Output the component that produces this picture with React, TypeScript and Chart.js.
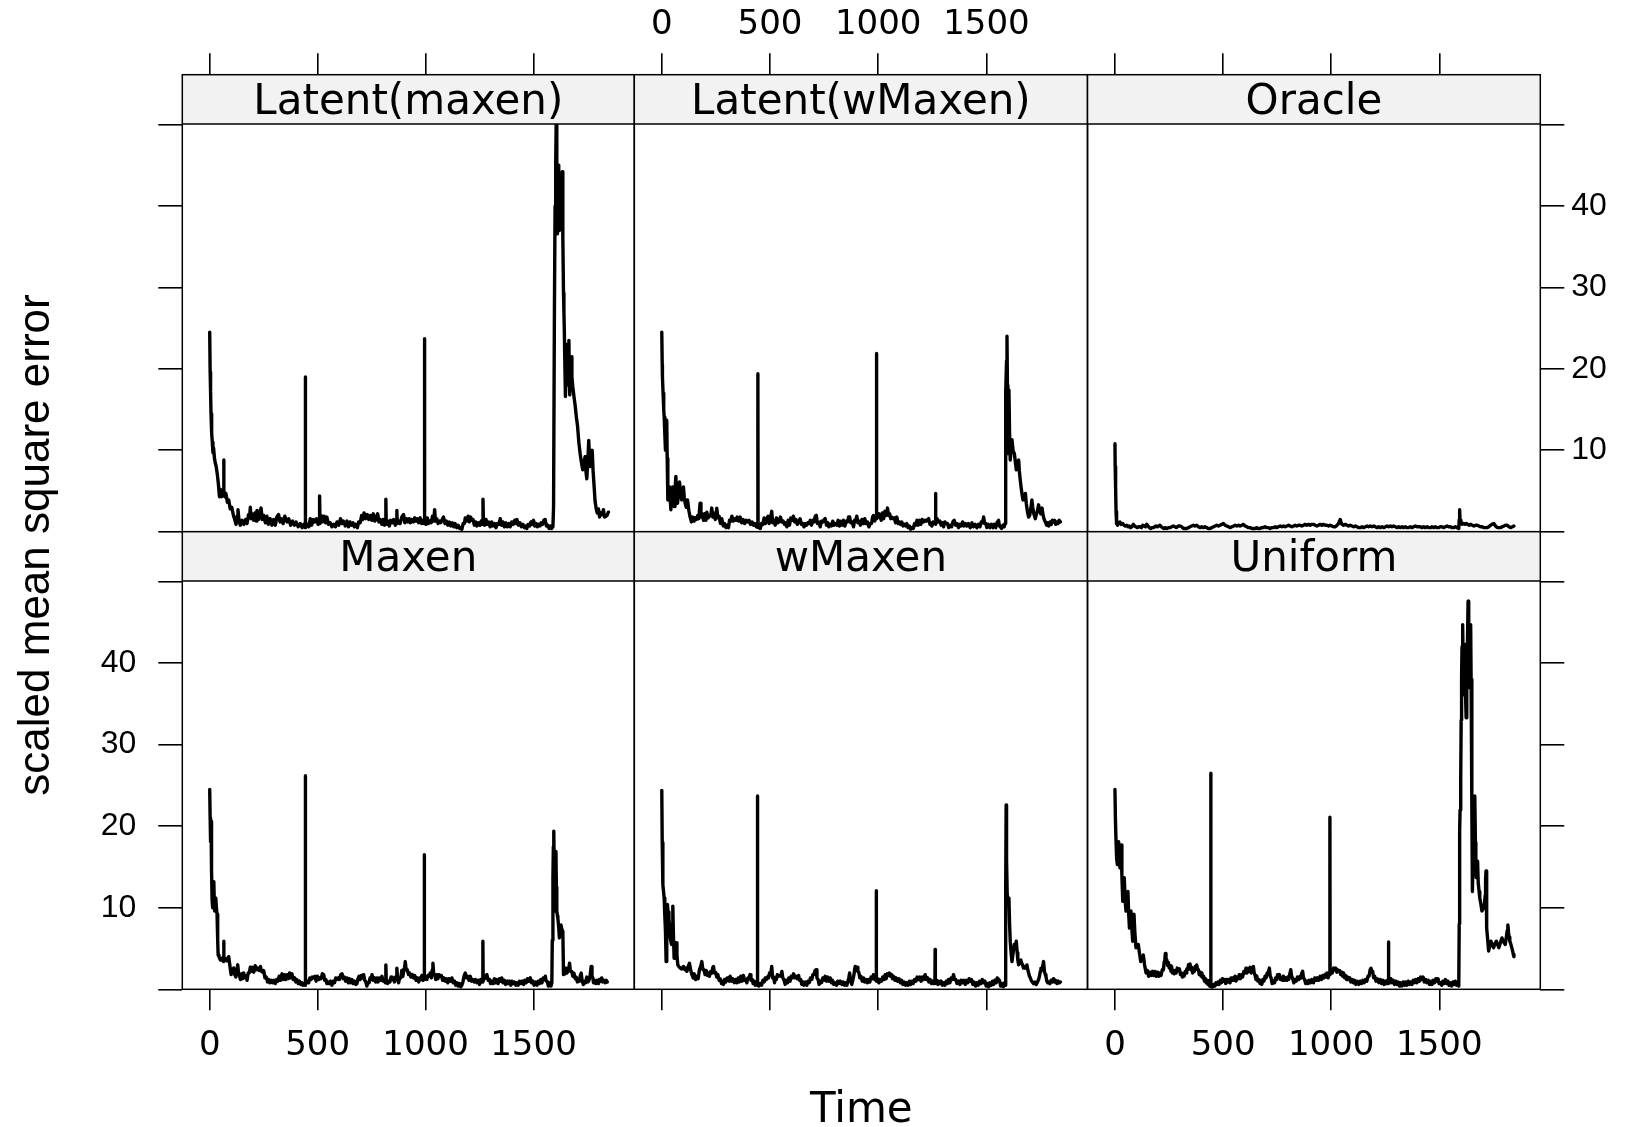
import React, { useEffect, useRef } from 'react';
import { Chart, registerables } from 'chart.js';

Chart.register(...registerables);

// ---------------- data ----------------
const PANEL_NAMES = ['Latent(maxen)', 'Latent(wMaxen)', 'Oracle', 'Maxen', 'wMaxen', 'Uniform'];
const TIME_TICKS = [0, 500, 1000, 1500];
const TIME_LABELS = ['0', '500', '1000', '1500'];
const Y_TICKS = [0, 10, 20, 30, 40, 50];
const Y_LABELS = ['', '10', '20', '30', '40', ''];
const X_LABEL = 'Time';
const Y_LABEL = 'scaled mean square error';

const latentMaxen: number[][] = [[0,24.5],[2,19.6],[4,17.2],[6,14.5],[9,12.1],[12,11.0],[15,9.7],[18,10.3],[22,9.0],[26,8.4],[30,8.0],[35,7.1],[40,5.9],[45,4.3],[50,5.2],[55,4.3],[60,5.0],[64,4.6],[65,8.8],[66,5.0],[70,4.3],[75,4.7],[82,3.6],[88,3.9],[95,2.8],[102,3.0],[110,2.0],[116,1.5],[122,0.9],[127,1.9],[131,2.7],[136,1.3],[142,0.8],[150,1.4],[158,0.9],[166,1.5],[173,1.0],[180,2.1],[185,1.8],[188,3.0],[192,1.6],[198,2.2],[204,1.4],[210,2.3],[215,1.3],[219,2.6],[226,1.5],[232,2.4],[238,2.9],[243,1.5],[250,2.0],[258,1.1],[265,1.9],[272,0.9],[280,1.6],[288,0.8],[296,1.5],[304,0.8],[311,1.8],[319,2.1],[326,1.2],[332,1.6],[340,1.0],[348,1.9],[358,1.2],[366,1.6],[375,0.8],[384,1.3],[392,0.8],[400,1.2],[410,0.6],[420,1.0],[428,0.5],[436,0.9],[442,0.5],[443,19.0],[444,0.6],[452,0.9],[459,0.6],[466,1.6],[472,0.8],[480,1.5],[488,1.2],[495,1.6],[502,0.9],[507,1.3],[509,4.4],[511,1.0],[516,2.0],[522,1.2],[530,1.9],[537,1.1],[543,1.8],[550,0.9],[558,1.1],[566,0.6],[574,0.9],[582,0.6],[590,1.2],[598,0.8],[606,1.6],[613,1.0],[620,1.3],[628,0.7],[636,1.3],[643,0.6],[650,1.2],[657,0.8],[664,1.1],[670,0.6],[677,0.9],[684,0.5],[690,1.2],[697,1.1],[704,2.0],[709,1.5],[715,2.3],[722,1.6],[730,2.1],[737,1.5],[744,2.0],[751,1.4],[758,2.2],[765,1.3],[771,1.6],[778,2.2],[784,1.2],[790,1.5],[797,0.9],[804,1.5],[810,0.8],[815,1.3],[816,4.0],[818,0.9],[825,1.3],[832,0.7],[838,1.4],[845,1.1],[852,1.5],[860,0.8],[866,1.4],[867,2.6],[869,1.0],[875,1.3],[882,1.0],[890,1.8],[898,2.1],[904,1.1],[911,1.6],[918,1.2],[924,1.6],[930,1.1],[937,1.5],[944,1.2],[950,1.7],[956,1.3],[962,1.6],[968,1.1],[975,1.7],[982,1.0],[988,1.4],[994,1.0],[995,23.7],[996,1.5],[1002,0.9],[1008,1.7],[1014,1.0],[1020,1.3],[1026,1.1],[1032,1.9],[1038,1.3],[1042,2.7],[1046,1.3],[1052,1.6],[1058,1.0],[1064,1.3],[1070,1.1],[1077,1.5],[1083,1.8],[1090,1.0],[1096,1.3],[1103,0.8],[1110,1.2],[1117,0.7],[1124,1.1],[1131,0.6],[1137,1.0],[1144,0.5],[1151,0.8],[1158,0.4],[1164,0.5],[1168,0.3],[1174,1.0],[1180,1.0],[1184,1.7],[1190,1.3],[1197,1.9],[1203,1.2],[1209,1.8],[1214,1.4],[1220,1.5],[1226,0.8],[1232,1.2],[1238,0.7],[1245,1.1],[1252,0.8],[1258,1.3],[1264,0.9],[1266,4.0],[1268,1.3],[1274,0.8],[1280,1.5],[1286,0.9],[1292,1.2],[1299,0.6],[1306,1.2],[1312,0.7],[1319,1.0],[1326,0.5],[1333,1.0],[1340,0.9],[1346,1.6],[1352,0.8],[1358,1.2],[1365,0.6],[1372,1.1],[1379,0.6],[1386,1.0],[1392,0.6],[1399,1.2],[1406,0.9],[1413,1.4],[1419,1.0],[1423,1.5],[1430,0.8],[1437,1.1],[1444,0.6],[1451,0.9],[1458,0.5],[1464,0.7],[1469,0.4],[1475,0.9],[1482,0.7],[1488,1.2],[1494,0.9],[1500,1.4],[1506,0.7],[1512,1.0],[1518,0.6],[1524,0.9],[1530,0.7],[1536,1.1],[1542,0.9],[1548,1.4],[1554,1.5],[1560,0.7],[1566,0.8],[1572,0.4],[1578,0.7],[1584,0.4],[1590,0.6],[1593,3.1],[1597,27.6],[1600,40.0],[1603,45.5],[1605,50.0],[1608,42.0],[1611,36.6],[1614,41.0],[1616,45.0],[1618,38.0],[1620,37.0],[1624,40.5],[1627,42.0],[1630,38.5],[1633,44.2],[1636,36.0],[1639,29.3],[1641,27.0],[1643,24.4],[1646,19.5],[1648,16.6],[1651,21.0],[1654,23.0],[1657,19.5],[1659,18.0],[1662,21.5],[1664,23.5],[1666,19.0],[1668,16.8],[1671,19.5],[1674,21.5],[1678,19.0],[1682,17.8],[1688,16.5],[1693,15.5],[1699,14.0],[1704,13.0],[1710,11.0],[1716,9.6],[1722,8.5],[1728,7.6],[1733,8.4],[1739,9.2],[1743,7.4],[1747,6.5],[1752,9.0],[1756,11.2],[1759,9.5],[1762,8.0],[1767,9.5],[1772,10.0],[1776,7.5],[1781,5.5],[1785,3.8],[1790,2.9],[1795,2.3],[1801,2.8],[1806,1.8],[1812,2.3],[1818,2.1],[1824,2.7],[1829,1.8],[1835,1.9],[1841,2.0],[1847,2.4]];

const latentWMaxen: number[][] = [[0,24.5],[2,20.5],[3,19.0],[6,17.0],[9,15.0],[11,14.1],[14,12.0],[17,10.0],[20,12.5],[23,13.7],[25,9.0],[28,3.9],[32,5.0],[36,5.5],[39,4.0],[42,2.7],[46,4.8],[51,5.5],[54,4.2],[57,3.1],[61,5.0],[65,6.8],[69,4.5],[73,3.5],[78,5.0],[82,6.1],[87,4.6],[92,3.9],[96,4.8],[100,5.5],[104,4.2],[108,3.5],[113,3.0],[119,3.9],[125,2.6],[131,1.8],[137,1.2],[143,1.8],[149,1.3],[154,1.7],[160,1.5],[166,2.0],[171,1.6],[177,3.5],[181,1.8],[187,2.2],[193,1.4],[199,2.2],[204,1.4],[208,2.4],[214,1.7],[220,1.9],[226,2.0],[231,2.9],[236,1.8],[241,2.2],[247,1.5],[251,2.5],[254,2.9],[259,1.7],[265,1.9],[271,1.0],[277,1.6],[284,0.7],[290,1.0],[297,0.5],[303,0.8],[308,0.5],[313,1.4],[318,1.3],[324,1.9],[330,1.3],[336,1.6],[342,1.4],[348,1.8],[355,1.3],[362,1.8],[369,1.1],[376,1.5],[383,1.0],[390,1.4],[396,1.2],[403,1.4],[410,0.9],[417,1.2],[424,0.8],[430,1.0],[437,0.6],[443,0.7],[444,19.4],[445,0.5],[450,0.7],[455,0.4],[461,1.0],[467,0.9],[473,1.7],[479,1.0],[485,1.6],[491,1.9],[496,1.0],[502,1.6],[508,2.5],[512,1.1],[518,1.4],[524,0.8],[530,1.7],[536,1.1],[542,1.2],[548,1.8],[555,1.2],[561,1.3],[567,0.9],[573,1.1],[578,0.6],[584,1.4],[590,0.8],[596,1.7],[602,1.4],[608,1.9],[614,1.2],[620,1.5],[626,0.9],[632,1.2],[639,1.6],[645,0.9],[651,1.0],[657,0.6],[663,1.0],[669,0.8],[675,1.1],[681,1.0],[686,1.4],[692,0.8],[698,1.4],[704,1.2],[709,1.9],[714,2.0],[719,1.0],[725,1.2],[732,0.6],[738,1.3],[744,1.2],[750,1.5],[755,1.6],[761,0.8],[767,1.1],[772,0.6],[778,0.9],[784,0.7],[790,1.3],[796,0.8],[803,1.0],[809,0.8],[815,1.4],[821,0.7],[827,1.3],[834,0.8],[840,1.4],[846,0.7],[852,1.3],[858,1.2],[863,1.8],[868,1.8],[873,1.1],[879,1.2],[886,0.6],[891,1.4],[896,1.3],[901,1.9],[906,1.1],[912,1.3],[918,0.8],[925,1.5],[932,1.0],[938,1.6],[944,1.0],[950,1.2],[957,0.6],[963,1.0],[969,1.0],[974,1.8],[978,2.0],[984,1.3],[991,1.9],[992,21.9],[993,1.6],[999,1.8],[1004,2.2],[1009,1.8],[1014,1.4],[1019,2.3],[1025,1.6],[1031,2.5],[1037,2.0],[1043,2.9],[1048,2.0],[1053,2.2],[1058,1.6],[1063,1.8],[1069,1.6],[1075,1.7],[1080,1.1],[1086,1.8],[1092,1.0],[1098,1.2],[1103,0.9],[1109,1.2],[1115,0.7],[1121,0.9],[1127,0.7],[1132,1.0],[1138,0.5],[1144,0.7],[1150,0.3],[1156,0.5],[1162,0.4],[1168,1.0],[1174,0.8],[1179,1.4],[1185,0.8],[1191,1.4],[1197,0.9],[1203,1.5],[1210,1.2],[1216,1.4],[1222,1.3],[1228,1.5],[1233,1.6],[1239,0.9],[1244,1.1],[1248,0.7],[1254,1.2],[1260,1.0],[1264,1.2],[1265,4.7],[1266,0.9],[1272,1.6],[1279,1.2],[1285,1.3],[1291,0.8],[1297,1.1],[1302,0.6],[1308,1.2],[1314,1.0],[1320,1.0],[1326,0.5],[1333,0.8],[1339,0.6],[1345,1.2],[1351,1.4],[1357,0.8],[1364,1.0],[1371,0.5],[1377,0.9],[1383,0.7],[1390,1.2],[1396,0.7],[1402,1.0],[1409,0.7],[1416,1.0],[1425,0.5],[1433,1.1],[1440,0.6],[1448,0.9],[1456,0.5],[1463,0.9],[1470,0.6],[1476,1.2],[1482,1.1],[1487,1.8],[1492,1.0],[1497,1.0],[1502,0.5],[1509,0.9],[1516,0.5],[1523,0.9],[1530,0.5],[1536,0.9],[1543,0.5],[1549,1.1],[1556,1.4],[1560,0.7],[1564,0.6],[1570,0.4],[1576,0.8],[1582,0.6],[1586,1.0],[1588,8.0],[1590,17.0],[1593,21.0],[1595,24.0],[1597,18.0],[1599,9.6],[1601,13.0],[1604,17.4],[1607,12.0],[1610,8.8],[1614,10.0],[1618,11.3],[1623,10.0],[1629,9.6],[1634,8.5],[1638,7.6],[1643,8.2],[1649,8.8],[1652,7.5],[1656,6.4],[1660,5.5],[1665,4.5],[1669,3.9],[1674,4.2],[1680,4.7],[1684,3.5],[1690,2.4],[1695,1.8],[1700,2.0],[1705,2.8],[1710,3.9],[1714,3.0],[1719,2.2],[1726,1.6],[1731,2.2],[1736,2.6],[1741,3.3],[1746,2.4],[1751,2.2],[1757,2.9],[1762,2.0],[1767,1.5],[1772,1.2],[1778,0.8],[1783,1.1],[1788,0.7],[1794,1.2],[1800,0.9],[1805,1.4],[1810,1.2],[1815,1.4],[1820,0.9],[1826,1.2],[1831,1.0],[1836,1.4],[1842,1.2]];

const oracle: number[][] = [[0,10.8],[1,8.0],[3,5.5],[5,2.5],[6,1.4],[9,1.0],[12,0.8],[17,1.1],[23,1.2],[29,0.9],[36,1.0],[42,0.8],[48,0.7],[54,0.8],[60,0.6],[66,0.7],[72,0.5],[78,0.6],[85,0.9],[91,0.7],[97,0.6],[104,0.5],[110,0.6],[116,0.6],[122,0.5],[129,0.8],[135,0.7],[141,0.6],[147,0.9],[153,0.7],[159,0.5],[165,0.4],[171,0.5],[178,0.5],[184,0.6],[190,0.7],[196,0.6],[202,0.7],[208,0.8],[214,0.6],[220,0.5],[226,0.4],[232,0.5],[240,0.4],[247,0.5],[255,0.5],[262,0.6],[270,0.7],[277,0.6],[285,0.5],[293,0.7],[301,0.7],[309,0.6],[316,0.4],[324,0.4],[332,0.4],[340,0.5],[347,0.6],[355,0.7],[363,0.8],[370,0.7],[378,0.8],[386,0.6],[394,0.5],[401,0.6],[409,0.5],[416,0.6],[424,0.5],[432,0.4],[440,0.4],[448,0.5],[456,0.6],[463,0.7],[471,0.8],[479,0.7],[486,0.8],[494,0.9],[502,1.0],[509,0.8],[517,0.7],[525,0.6],[533,0.5],[541,0.6],[549,0.7],[556,0.8],[564,0.7],[572,0.8],[579,0.7],[587,0.8],[594,0.9],[602,0.7],[610,0.6],[617,0.5],[625,0.5],[633,0.4],[640,0.4],[648,0.4],[656,0.5],[663,0.4],[671,0.4],[679,0.5],[686,0.5],[694,0.6],[702,0.5],[710,0.5],[717,0.4],[725,0.5],[733,0.5],[741,0.6],[748,0.5],[756,0.6],[764,0.7],[772,0.6],[779,0.7],[787,0.6],[795,0.7],[803,0.8],[810,0.7],[818,0.6],[826,0.7],[833,0.8],[841,0.7],[849,0.8],[856,0.8],[864,0.7],[872,0.8],[879,0.9],[887,0.8],[895,0.9],[903,0.8],[910,0.9],[918,0.9],[926,0.8],[934,0.7],[941,0.8],[949,0.9],[957,0.8],[964,0.9],[972,0.8],[980,0.8],[988,0.7],[995,0.8],[1003,0.7],[1011,0.6],[1019,0.6],[1027,0.8],[1034,1.0],[1038,1.3],[1042,1.5],[1046,1.1],[1050,0.9],[1057,0.8],[1065,0.9],[1073,0.8],[1080,0.7],[1088,0.8],[1096,0.7],[1104,0.6],[1112,0.7],[1119,0.6],[1127,0.5],[1135,0.5],[1143,0.6],[1150,0.5],[1158,0.6],[1166,0.7],[1173,0.6],[1181,0.7],[1189,0.6],[1197,0.7],[1204,0.6],[1212,0.5],[1220,0.6],[1227,0.5],[1235,0.6],[1243,0.5],[1251,0.6],[1258,0.7],[1266,0.6],[1274,0.7],[1281,0.6],[1289,0.7],[1297,0.6],[1305,0.5],[1312,0.6],[1320,0.5],[1328,0.6],[1335,0.5],[1343,0.6],[1350,0.5],[1358,0.5],[1366,0.6],[1374,0.5],[1381,0.6],[1389,0.7],[1397,0.6],[1405,0.6],[1412,0.6],[1420,0.5],[1428,0.6],[1435,0.5],[1443,0.6],[1451,0.5],[1459,0.5],[1466,0.6],[1474,0.5],[1482,0.6],[1489,0.5],[1497,0.5],[1505,0.6],[1512,0.6],[1520,0.5],[1528,0.6],[1536,0.7],[1543,0.6],[1551,0.6],[1559,0.5],[1566,0.5],[1574,0.6],[1582,0.5],[1590,0.4],[1592,1.5],[1594,2.7],[1596,1.4],[1600,1.0],[1606,0.9],[1612,1.0],[1619,0.9],[1625,1.0],[1631,0.9],[1638,0.8],[1645,0.9],[1652,0.8],[1660,0.7],[1668,0.8],[1675,0.8],[1683,0.7],[1690,0.6],[1698,0.6],[1706,0.5],[1714,0.5],[1721,0.5],[1729,0.6],[1737,0.8],[1744,0.9],[1752,1.0],[1760,0.7],[1768,0.5],[1776,0.5],[1783,0.5],[1791,0.6],[1799,0.7],[1806,0.8],[1814,0.8],[1822,0.6],[1830,0.5],[1838,0.6],[1845,0.7]];

const maxen: number[][] = [[0,24.5],[2,21.0],[3,18.1],[5,19.5],[6,20.6],[8,16.0],[9,14.5],[11,11.0],[12,10.0],[15,11.5],[19,13.2],[21,11.0],[23,9.6],[26,10.5],[28,11.2],[31,10.0],[34,9.2],[37,6.0],[39,4.2],[43,4.0],[49,3.6],[55,3.8],[60,3.5],[64,3.4],[65,5.9],[66,3.6],[73,3.8],[80,3.5],[88,4.0],[94,2.8],[99,1.8],[105,2.3],[111,2.6],[116,1.8],[121,1.5],[126,2.5],[130,3.0],[134,1.8],[138,1.7],[142,1.2],[148,1.9],[152,1.3],[157,2.0],[163,1.4],[168,1.6],[173,1.1],[178,2.0],[183,2.0],[188,2.7],[193,2.2],[198,2.7],[204,2.1],[211,2.9],[217,2.4],[223,2.6],[229,2.3],[235,2.8],[240,2.2],[245,2.1],[250,2.3],[256,1.4],[262,1.5],[268,0.9],[273,1.2],[279,0.8],[285,1.1],[291,0.8],[297,1.1],[304,0.7],[310,1.2],[316,1.0],[322,1.6],[328,1.1],[335,1.9],[340,1.2],[346,1.8],[352,1.2],[358,1.8],[364,1.3],[370,2.0],[376,1.4],[381,1.9],[387,1.2],[393,1.4],[399,0.9],[404,1.2],[410,0.7],[416,1.0],[422,0.6],[427,0.8],[432,0.5],[438,0.7],[442,0.5],[443,26.2],[444,0.6],[450,1.0],[458,0.8],[464,1.4],[470,1.2],[475,1.5],[481,1.4],[487,1.6],[493,1.0],[499,1.6],[505,1.2],[510,1.4],[516,1.3],[522,1.9],[528,1.8],[533,1.1],[538,1.2],[543,0.7],[548,0.9],[554,0.7],[560,1.0],[566,0.5],[572,1.0],[578,0.8],[584,1.4],[590,1.2],[596,1.4],[601,1.2],[607,1.8],[613,1.9],[618,1.3],[624,1.5],[630,1.0],[636,1.4],[642,0.8],[647,1.3],[653,0.8],[659,1.2],[665,0.7],[671,1.0],[677,0.6],[682,0.7],[687,1.3],[692,1.6],[697,1.2],[703,1.7],[708,1.4],[713,1.8],[718,1.1],[722,1.0],[728,0.4],[733,0.8],[738,0.8],[743,1.4],[748,1.2],[752,1.8],[758,1.1],[763,1.4],[769,0.9],[775,1.4],[780,0.9],[786,1.4],[792,1.1],[798,1.6],[803,1.0],[808,1.2],[814,0.8],[816,3.0],[818,1.1],[824,0.7],[829,1.0],[835,0.9],[840,1.5],[844,1.2],[850,1.4],[856,0.9],[861,1.5],[865,1.6],[867,2.6],[870,1.4],[875,0.8],[880,1.4],[885,1.4],[890,2.3],[895,1.6],[900,2.5],[903,2.7],[906,3.4],[910,2.4],[915,2.4],[921,1.8],[926,2.0],[932,1.5],[938,1.8],[944,1.4],[950,1.7],[956,1.1],[962,1.4],[968,0.9],[973,1.4],[978,1.2],[983,1.7],[988,1.1],[993,1.4],[994,16.5],[995,1.2],[1000,1.5],[1006,1.2],[1011,1.7],[1016,1.6],[1022,2.0],[1027,1.4],[1031,2.4],[1034,3.2],[1038,1.8],[1043,1.8],[1047,1.2],[1052,1.8],[1057,1.3],[1062,1.8],[1068,1.6],[1073,1.7],[1079,1.1],[1085,1.4],[1091,1.0],[1097,1.3],[1103,0.8],[1109,1.3],[1116,1.0],[1122,1.4],[1128,0.8],[1134,1.0],[1140,0.5],[1145,0.8],[1151,0.4],[1157,0.7],[1163,0.3],[1168,0.5],[1173,0.9],[1178,1.6],[1184,2.0],[1189,1.4],[1195,1.6],[1201,1.1],[1207,1.6],[1213,1.0],[1219,1.2],[1225,0.9],[1231,1.2],[1238,0.8],[1244,1.1],[1250,0.6],[1256,1.2],[1262,0.9],[1265,1.2],[1266,5.9],[1267,1.0],[1273,1.6],[1279,1.4],[1284,1.8],[1290,1.1],[1296,1.2],[1301,0.7],[1307,1.0],[1313,0.7],[1319,1.3],[1325,0.8],[1330,1.2],[1336,0.7],[1342,1.3],[1348,1.0],[1353,1.4],[1359,0.8],[1365,1.1],[1371,0.6],[1377,1.0],[1383,0.7],[1389,1.0],[1395,0.5],[1400,1.0],[1406,0.7],[1412,0.9],[1418,0.5],[1423,0.8],[1429,0.5],[1435,1.0],[1441,0.7],[1448,1.0],[1454,0.6],[1460,1.1],[1466,0.8],[1472,1.3],[1478,1.0],[1485,1.4],[1491,0.8],[1497,1.0],[1503,0.5],[1510,0.9],[1516,0.5],[1522,1.0],[1528,0.7],[1534,1.2],[1539,0.8],[1545,1.4],[1551,1.2],[1555,1.6],[1558,1.0],[1563,1.0],[1569,0.4],[1575,0.8],[1581,0.4],[1585,0.8],[1587,6.0],[1590,13.7],[1592,17.5],[1594,19.4],[1596,15.0],[1598,11.0],[1599,9.6],[1601,13.0],[1604,16.9],[1606,12.5],[1608,9.6],[1611,9.0],[1613,8.7],[1617,7.5],[1620,6.3],[1623,7.0],[1627,7.9],[1631,7.4],[1636,7.1],[1639,1.8],[1643,2.2],[1647,1.9],[1651,2.6],[1655,2.0],[1660,2.3],[1664,2.6],[1667,3.2],[1671,2.2],[1677,2.2],[1682,1.6],[1687,2.0],[1693,1.3],[1698,1.5],[1703,0.9],[1708,1.2],[1713,1.0],[1717,1.7],[1721,2.0],[1725,1.1],[1731,0.6],[1736,1.0],[1741,0.8],[1747,1.5],[1752,0.9],[1757,1.1],[1762,1.6],[1767,2.8],[1771,1.6],[1775,1.4],[1778,0.8],[1783,1.1],[1789,0.7],[1795,1.1],[1801,0.7],[1806,1.2],[1811,1.0],[1816,1.4],[1821,0.9],[1826,1.1],[1832,0.8],[1837,1.1],[1842,0.9]];

const wMaxen: number[][] = [[0,24.4],[2,18.0],[5,12.8],[8,12.0],[11,11.2],[14,9.0],[17,7.1],[20,3.4],[23,7.0],[26,10.4],[29,9.5],[33,8.7],[36,7.5],[39,6.3],[42,5.9],[45,5.5],[48,8.0],[51,10.2],[54,6.5],[57,3.8],[61,4.8],[66,5.7],[70,4.2],[74,3.0],[79,2.8],[85,2.6],[92,2.5],[100,2.8],[106,2.4],[111,2.6],[116,2.2],[122,2.8],[128,3.2],[133,2.4],[139,1.8],[145,1.4],[150,1.9],[156,1.2],[162,1.6],[168,1.3],[174,2.4],[180,2.8],[185,3.4],[190,2.4],[195,2.4],[200,1.8],[206,2.3],[211,1.7],[216,2.0],[220,1.6],[226,2.2],[231,2.0],[236,2.7],[239,2.8],[243,2.0],[248,2.1],[254,1.5],[259,1.8],[265,1.1],[270,1.3],[276,0.7],[281,1.0],[285,0.6],[290,1.2],[296,0.9],[302,1.4],[308,1.4],[312,1.0],[316,1.6],[322,1.0],[328,1.3],[335,0.8],[341,1.2],[347,0.8],[353,1.4],[359,0.9],[365,1.6],[371,1.0],[377,1.7],[382,1.1],[388,1.2],[393,0.8],[398,1.4],[404,1.5],[408,1.8],[412,1.1],[418,1.2],[422,0.7],[427,1.0],[432,0.5],[437,0.8],[441,0.5],[442,23.7],[443,0.6],[448,0.4],[455,0.7],[461,0.5],[467,1.1],[473,0.9],[478,1.4],[483,1.2],[488,1.5],[493,1.4],[498,2.0],[503,1.8],[508,2.8],[512,1.4],[517,1.5],[521,0.8],[524,1.2],[529,1.2],[534,1.8],[539,1.6],[544,1.7],[549,1.6],[555,2.2],[559,1.4],[564,1.2],[570,0.6],[575,1.1],[581,0.8],[587,1.4],[593,1.0],[598,1.6],[603,1.4],[609,1.9],[614,1.4],[620,1.6],[626,1.3],[632,1.7],[637,1.1],[642,1.2],[647,0.6],[652,0.9],[657,0.5],[663,0.9],[670,0.5],[675,1.0],[681,0.8],[687,1.4],[693,1.2],[698,1.8],[703,1.8],[708,2.3],[713,2.4],[717,1.4],[722,1.2],[727,0.6],[732,1.0],[738,0.8],[744,1.4],[749,1.1],[755,1.6],[761,1.0],[767,1.5],[772,1.0],[778,1.4],[784,0.8],[789,1.1],[795,0.6],[801,0.8],[807,0.5],[813,1.0],[819,0.7],[825,1.0],[832,0.6],[838,0.9],[844,0.5],[850,0.8],[855,0.5],[860,1.0],[864,1.4],[868,2.0],[872,1.0],[878,0.6],[883,1.2],[888,1.8],[892,2.6],[894,2.8],[898,2.3],[902,2.7],[906,2.2],[910,2.1],[915,1.4],[920,1.6],[926,1.0],[932,1.4],[938,0.9],[944,1.2],[950,0.8],[955,1.2],[961,0.9],[967,1.5],[973,1.3],[978,1.8],[984,1.2],[990,1.4],[991,12.1],[992,1.0],[998,1.3],[1003,0.8],[1009,1.2],[1015,1.0],[1021,1.5],[1027,1.2],[1032,1.8],[1037,1.3],[1042,1.9],[1047,1.7],[1052,2.0],[1057,1.6],[1062,1.8],[1066,1.3],[1071,1.6],[1077,1.1],[1083,1.4],[1089,1.0],[1096,1.3],[1102,0.8],[1108,1.1],[1114,0.6],[1120,0.9],[1126,0.5],[1132,0.8],[1138,0.5],[1144,1.0],[1150,0.6],[1156,1.0],[1162,0.7],[1168,1.2],[1174,1.0],[1180,1.5],[1186,1.2],[1192,1.5],[1198,1.0],[1204,1.5],[1210,1.2],[1217,1.8],[1222,1.2],[1228,1.4],[1234,0.9],[1240,1.2],[1246,0.7],[1252,1.0],[1258,0.7],[1262,1.1],[1263,4.9],[1264,0.8],[1270,1.1],[1276,0.6],[1279,1.0],[1285,0.7],[1291,1.0],[1297,0.5],[1302,0.8],[1308,0.5],[1314,1.0],[1320,0.7],[1325,1.2],[1331,0.8],[1337,1.4],[1343,1.2],[1348,1.8],[1353,1.2],[1358,1.2],[1364,0.7],[1371,1.0],[1377,0.6],[1383,1.1],[1389,0.8],[1395,1.1],[1402,0.6],[1408,1.1],[1414,0.8],[1420,1.3],[1425,1.0],[1431,1.2],[1437,0.6],[1443,0.9],[1450,0.4],[1456,0.8],[1462,0.5],[1468,1.0],[1475,0.7],[1481,1.2],[1487,0.8],[1493,1.0],[1499,0.4],[1505,0.7],[1510,0.3],[1516,0.8],[1522,0.5],[1528,1.0],[1533,0.6],[1539,1.1],[1545,0.8],[1550,1.4],[1556,1.2],[1560,1.1],[1566,0.4],[1572,0.7],[1578,0.3],[1584,0.8],[1587,0.5],[1589,12.0],[1591,22.6],[1593,16.0],[1596,11.6],[1600,10.5],[1604,11.2],[1607,8.0],[1610,5.9],[1614,4.5],[1618,3.4],[1622,4.2],[1626,5.0],[1629,5.5],[1633,5.2],[1636,5.6],[1638,5.9],[1642,4.5],[1645,3.6],[1649,3.0],[1653,3.4],[1656,3.3],[1659,3.6],[1663,3.2],[1667,3.0],[1671,2.6],[1675,2.8],[1679,2.6],[1683,2.8],[1687,3.0],[1691,2.4],[1695,2.0],[1699,1.6],[1703,1.4],[1707,1.1],[1712,0.9],[1718,0.7],[1724,0.9],[1730,0.6],[1736,0.9],[1741,1.2],[1745,1.6],[1749,2.2],[1752,2.6],[1756,2.4],[1760,2.8],[1764,3.4],[1768,2.2],[1772,1.8],[1775,1.6],[1779,1.0],[1783,0.8],[1787,0.9],[1793,0.7],[1799,1.1],[1804,0.9],[1810,1.3],[1815,0.9],[1820,1.1],[1826,0.7],[1832,1.0],[1837,0.8],[1842,0.9]];

const uniform: number[][] = [[0,24.5],[2,21.0],[5,18.1],[8,16.0],[11,15.3],[14,17.0],[17,18.1],[20,16.0],[23,14.9],[26,16.5],[29,17.7],[32,14.0],[36,10.8],[39,12.0],[43,13.7],[47,11.0],[51,9.6],[55,10.5],[60,12.0],[63,9.5],[67,7.5],[70,8.4],[74,9.6],[78,7.5],[82,5.9],[85,7.5],[88,9.2],[92,7.0],[97,5.1],[102,5.4],[108,5.5],[113,4.5],[119,3.4],[125,3.8],[131,4.2],[137,3.0],[144,2.0],[150,2.3],[156,1.6],[162,2.1],[168,1.7],[174,2.2],[180,1.7],[185,2.2],[191,1.6],[197,2.1],[203,1.6],[208,2.0],[213,1.7],[219,2.4],[224,2.4],[228,3.4],[231,3.8],[233,4.4],[236,3.8],[240,3.6],[244,2.9],[247,3.3],[251,2.6],[255,2.9],[259,2.2],[262,2.8],[266,2.0],[270,2.3],[274,1.9],[278,2.3],[283,2.0],[288,2.6],[293,2.4],[298,2.5],[303,1.8],[308,2.0],[312,1.5],[316,1.9],[320,1.6],[325,2.2],[329,2.0],[332,2.5],[336,2.4],[340,3.0],[344,2.7],[347,3.1],[351,2.4],[355,2.7],[359,2.0],[363,2.3],[367,2.2],[371,2.8],[375,2.6],[378,3.0],[382,2.4],[386,2.4],[390,1.8],[394,2.1],[398,1.6],[402,2.0],[406,1.4],[410,1.6],[414,1.0],[418,1.3],[422,0.8],[426,1.1],[430,0.6],[434,0.8],[438,0.4],[442,0.6],[443,26.5],[444,0.3],[448,0.5],[452,0.3],[457,0.6],[462,0.4],[467,0.8],[471,0.6],[476,0.9],[481,0.6],[487,1.1],[492,0.8],[497,1.3],[502,1.0],[507,1.2],[512,0.7],[517,1.2],[522,0.9],[527,1.2],[532,0.8],[537,1.4],[542,1.1],[547,1.4],[551,1.1],[555,1.6],[560,1.0],[565,1.5],[570,1.3],[575,1.8],[580,1.3],[585,1.8],[590,1.5],[596,2.2],[602,2.0],[606,2.6],[610,2.0],[615,2.2],[620,2.2],[625,2.7],[630,2.0],[635,2.6],[640,2.8],[644,2.0],[648,1.7],[652,1.2],[656,1.6],[661,1.0],[666,1.2],[671,0.7],[675,1.0],[679,0.6],[684,1.2],[689,1.0],[694,1.6],[699,1.4],[704,2.0],[709,2.0],[714,2.6],[718,1.6],[722,1.4],[727,0.7],[733,1.0],[738,0.8],[743,1.4],[748,1.2],[752,1.8],[756,1.6],[761,1.8],[765,1.2],[770,1.4],[775,1.1],[779,1.6],[784,1.1],[790,1.4],[795,1.1],[800,1.5],[804,1.2],[808,1.8],[813,2.4],[817,1.6],[821,1.4],[827,0.8],[833,1.2],[838,1.0],[844,1.5],[850,1.2],[856,1.6],[860,1.4],[864,2.0],[868,2.2],[872,1.4],[877,1.2],[882,0.7],[887,1.0],[893,0.7],[898,1.1],[904,0.8],[910,1.2],[918,0.8],[924,1.4],[930,1.1],[936,1.4],[942,1.1],[949,1.6],[955,1.2],[961,1.7],[966,1.4],[972,1.8],[976,1.5],[980,2.0],[986,1.4],[993,2.1],[994,21.1],[995,1.8],[1000,2.4],[1005,2.0],[1011,2.6],[1016,2.4],[1021,2.6],[1026,2.1],[1030,2.4],[1034,2.2],[1039,2.3],[1044,1.8],[1049,2.1],[1053,1.6],[1057,2.0],[1062,1.4],[1067,1.7],[1071,1.2],[1076,1.5],[1080,1.2],[1086,1.4],[1091,0.9],[1097,1.2],[1103,0.8],[1108,1.1],[1114,0.6],[1120,1.0],[1127,0.6],[1134,1.0],[1140,0.7],[1146,1.1],[1152,0.8],[1158,1.2],[1165,1.0],[1170,1.6],[1175,1.6],[1180,2.4],[1184,2.6],[1188,2.2],[1192,2.2],[1196,1.4],[1201,1.6],[1207,1.0],[1213,1.3],[1220,0.8],[1227,1.2],[1233,0.7],[1239,1.1],[1245,0.6],[1250,1.0],[1255,0.7],[1260,1.1],[1264,0.7],[1265,5.8],[1266,1.2],[1271,0.8],[1276,1.3],[1281,0.8],[1287,1.1],[1293,0.6],[1299,1.0],[1304,0.6],[1310,0.9],[1316,0.4],[1321,0.8],[1327,0.4],[1333,0.9],[1339,0.5],[1345,0.9],[1350,0.5],[1356,1.0],[1362,0.6],[1368,0.9],[1373,0.6],[1379,1.1],[1384,0.8],[1390,1.2],[1396,0.8],[1402,1.3],[1408,1.0],[1414,1.5],[1420,1.2],[1425,1.5],[1431,0.9],[1437,1.2],[1443,0.8],[1449,1.1],[1455,0.6],[1461,1.0],[1466,0.6],[1472,1.1],[1478,0.8],[1484,1.3],[1489,1.0],[1494,1.3],[1499,0.7],[1505,0.8],[1511,0.5],[1516,1.0],[1522,0.7],[1528,1.2],[1534,0.7],[1540,1.0],[1545,0.5],[1551,0.8],[1557,0.4],[1563,0.9],[1568,0.6],[1574,1.0],[1580,0.5],[1585,0.8],[1590,0.4],[1592,8.0],[1594,19.4],[1596,22.0],[1599,25.9],[1601,33.0],[1603,38.2],[1605,42.0],[1608,44.7],[1610,40.0],[1613,36.1],[1615,39.5],[1617,42.3],[1620,37.5],[1624,33.3],[1626,36.0],[1628,38.2],[1631,44.0],[1633,47.6],[1635,42.0],[1637,39.5],[1639,37.0],[1641,40.5],[1643,43.0],[1645,44.7],[1647,38.0],[1650,30.4],[1651,22.0],[1653,12.0],[1656,16.0],[1659,19.4],[1661,21.0],[1663,22.5],[1665,23.7],[1667,18.0],[1669,14.5],[1671,13.7],[1674,14.8],[1677,15.7],[1680,13.0],[1684,12.0],[1687,11.2],[1692,10.5],[1697,9.6],[1701,9.8],[1705,10.0],[1709,10.5],[1712,11.5],[1714,13.5],[1716,14.5],[1718,10.0],[1720,7.5],[1724,6.0],[1728,4.7],[1733,5.3],[1739,5.9],[1745,5.4],[1751,5.1],[1757,5.6],[1764,5.9],[1769,5.5],[1775,5.1],[1781,5.6],[1786,6.0],[1790,6.3],[1795,5.9],[1800,5.7],[1805,5.5],[1810,6.4],[1814,7.2],[1817,7.9],[1820,7.0],[1823,6.4],[1826,5.9],[1830,5.6],[1834,5.2],[1838,4.8],[1842,4.3],[1845,4.0]];

const SERIES = [latentMaxen, latentWMaxen, oracle, maxen, wMaxen, uniform];

// ---------------- layout / style ----------------
const PAGE_W = 1644;
const PAGE_H = 1127;
const X_MIN = -127;
const X_MAX = 1967;
const Y_MIN = 0;
const Y_MAX = 50.07;
const COL_EDGES = [182.3, 634.3, 1087.5, 1540.3];
const STRIP_TOPS = [74.7, 531.7];
const DATA_BOTTOMS = [531.7, 989.3];
const STRIP_H = 49.3;
const STRIP_SHIFT = 8;
const AX_TOP = 74;
const AX_BOTTOM = 100;
const AX_LEFT = 120;
const AX_RIGHT = 100;
const FONT_H = '"DejaVu Sans", "Liberation Sans", sans-serif';
const FONT_V = '"Liberation Sans", Arial, sans-serif';
const STRIP_FILL = '#f2f2f2';

const framePlugin = {
  id: 'latticeFrame',
  beforeDraw(chart: any) {
    const a = chart.chartArea;
    const ctx = chart.ctx;
    ctx.save();
    ctx.fillStyle = STRIP_FILL;
    ctx.fillRect(a.left, a.top - STRIP_H, a.right - a.left, STRIP_H);
    ctx.restore();
  },
  afterDraw(chart: any) {
    const a = chart.chartArea;
    const ctx = chart.ctx;
    ctx.save();
    ctx.strokeStyle = '#000';
    ctx.lineWidth = 1.5;
    ctx.strokeRect(a.left, a.top - STRIP_H, a.right - a.left, a.bottom - a.top + STRIP_H);
    ctx.beginPath();
    ctx.moveTo(a.left, a.top);
    ctx.lineTo(a.right, a.top);
    ctx.stroke();
    ctx.restore();
  },
};

const axisTitlePlugin = {
  id: 'axisTitles',
  afterDraw(chart: any) {
    const ctx = chart.ctx;
    ctx.save();
    ctx.fillStyle = '#000';
    ctx.textAlign = 'center';
    ctx.textBaseline = 'middle';
    ctx.font = `42px ${FONT_H}`;
    ctx.fillText(X_LABEL, (COL_EDGES[0] + COL_EDGES[3]) / 2, 1111);
    ctx.translate(37, 545);
    ctx.rotate(-Math.PI / 2);
    ctx.font = `44px ${FONT_V}`;
    ctx.fillText(Y_LABEL, 0, 0);
    ctx.restore();
  },
};

function buildConfig(idx: number): any {
  const r = Math.floor(idx / 3);
  const c = idx % 3;
  const leftShown = c === 0;
  const rightShown = c === 2;
  const topShown = r === 0;
  const bottomShown = r === 1;
  const xTickFont = { family: FONT_H, size: 34, lineHeight: 1 };
  const yTickFont = { family: FONT_V, size: 32, lineHeight: 1 };
  const grid = (len: number) => ({
    drawOnChartArea: false,
    drawTicks: true,
    tickLength: len,
    color: '#000',
    lineWidth: 1.6,
  });
  const xTicks = () => (s: any) => {
    s.ticks = TIME_TICKS.map((v) => ({ value: v }));
  };
  const yTicks = () => (s: any) => {
    s.ticks = Y_TICKS.map((v) => ({ value: v }));
  };

  const points = SERIES[idx].map(([x, y]) => ({ x, y }));

  const plugins: any[] = [framePlugin];
  if (idx === 4) plugins.push(axisTitlePlugin);

  return {
    type: 'line',
    data: {
      datasets: [
        {
          data: points,
          borderColor: '#000',
          borderWidth: 3.4,
          pointRadius: 0,
          tension: 0,
          fill: false,
          borderJoinStyle: 'round',
          borderCapStyle: 'round',
          xAxisID: 'x',
          yAxisID: 'y',
        },
      ],
    },
    plugins,
    options: {
      responsive: false,
      animation: false,
      devicePixelRatio: 1,
      events: [],
      layout: {
        padding: {
          left: COL_EDGES[c] - (leftShown ? AX_LEFT : 0),
          right: PAGE_W - COL_EDGES[c + 1] - (rightShown ? AX_RIGHT : 0),
          top: STRIP_TOPS[r] - (topShown ? AX_TOP : 0),
          bottom: PAGE_H - DATA_BOTTOMS[r] - (bottomShown ? AX_BOTTOM : 0),
        },
      },
      plugins: {
        legend: { display: false },
        tooltip: { enabled: false },
        title: {
          display: true,
          text: PANEL_NAMES[idx],
          position: 'top',
          fullSize: false,
          weight: -10,
          color: '#000',
          padding: { top: STRIP_SHIFT, bottom: 0 },
          font: { family: FONT_H, size: 42, weight: 'normal', lineHeight: (STRIP_H - STRIP_SHIFT) / 42 },
        },
      },
      scales: {
        x: {
          type: 'linear',
          position: 'bottom',
          min: X_MIN,
          max: X_MAX,
          display: bottomShown,
          afterBuildTicks: xTicks(),
          afterFit: (s: any) => {
            if (bottomShown) s.height = AX_BOTTOM;
          },
          border: { display: false },
          grid: grid(21),
          ticks: {
            display: c !== 1,
            font: xTickFont,
            color: '#000',
            padding: 18.5,
            maxRotation: 0,
            autoSkip: false,
            callback: (_v: any, i: number) => TIME_LABELS[i],
          },
        },
        xTop: {
          type: 'linear',
          position: 'top',
          min: X_MIN,
          max: X_MAX,
          display: topShown,
          weight: 0,
          afterBuildTicks: xTicks(),
          afterFit: (s: any) => {
            if (topShown) s.height = AX_TOP;
          },
          border: { display: false },
          grid: grid(21.4),
          ticks: {
            display: c === 1,
            font: xTickFont,
            color: '#000',
            padding: 11,
            maxRotation: 0,
            autoSkip: false,
            callback: (_v: any, i: number) => TIME_LABELS[i],
          },
        },
        y: {
          type: 'linear',
          position: 'left',
          min: Y_MIN,
          max: Y_MAX,
          display: leftShown,
          afterBuildTicks: yTicks(),
          afterFit: (s: any) => {
            if (leftShown) s.width = AX_LEFT;
          },
          border: { display: false },
          grid: grid(24),
          ticks: {
            display: r === 1,
            font: yTickFont,
            color: '#000',
            padding: 22,
            autoSkip: false,
            callback: (_v: any, i: number) => Y_LABELS[i],
          },
        },
        yRight: {
          type: 'linear',
          position: 'right',
          min: Y_MIN,
          max: Y_MAX,
          display: rightShown,
          afterBuildTicks: yTicks(),
          afterFit: (s: any) => {
            if (rightShown) s.width = AX_RIGHT;
          },
          border: { display: false },
          grid: grid(24),
          ticks: {
            display: r === 0,
            font: yTickFont,
            color: '#000',
            padding: 7,
            autoSkip: false,
            callback: (_v: any, i: number) => Y_LABELS[i],
          },
        },
      },
    },
  };
}

export default function App() {
  const refs = useRef<(HTMLCanvasElement | null)[]>([]);

  useEffect(() => {
    const charts = refs.current.map((cv, i) => (cv ? new Chart(cv, buildConfig(i)) : null));
    return () => {
      charts.forEach((ch) => ch && ch.destroy());
    };
  }, []);

  return (
    <div
      style={{
        position: 'absolute',
        left: 0,
        top: 0,
        width: PAGE_W,
        height: PAGE_H,
        overflow: 'hidden',
        background: '#fff',
      }}
    >
      {PANEL_NAMES.map((name, i) => (
        <canvas
          key={name}
          ref={(el) => {
            refs.current[i] = el;
          }}
          width={PAGE_W}
          height={PAGE_H}
          style={{ position: 'absolute', left: 0, top: 0, width: PAGE_W, height: PAGE_H }}
        />
      ))}
    </div>
  );
}
